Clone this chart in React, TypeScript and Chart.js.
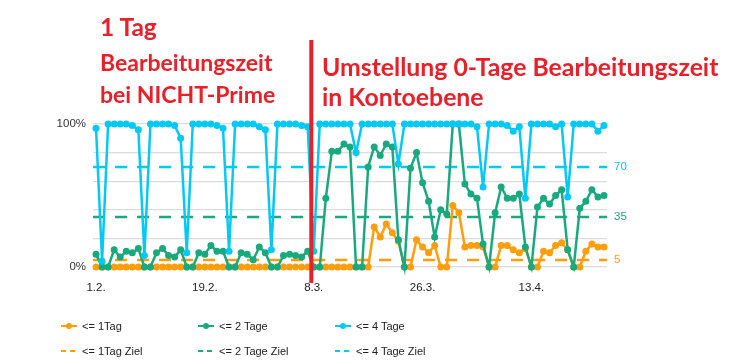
import React, { useEffect, useRef } from "react";
import { Chart, registerables } from "chart.js";

Chart.register(...registerables);

// ---------- data ----------
const dates = [
  "1.2.", "2.2.", "3.2.", "4.2.", "5.2.", "6.2.", "7.2.", "8.2.", "9.2.", "10.2.",
  "11.2.", "12.2.", "13.2.", "14.2.", "15.2.", "16.2.", "17.2.", "18.2.", "19.2.", "20.2.",
  "21.2.", "22.2.", "23.2.", "24.2.", "25.2.", "26.2.", "27.2.", "28.2.", "29.2.",
  "1.3.", "2.3.", "3.3.", "4.3.", "5.3.", "6.3.", "7.3.", "8.3.", "9.3.", "10.3.",
  "11.3.", "12.3.", "13.3.", "14.3.", "15.3.", "16.3.", "17.3.", "18.3.", "19.3.", "20.3.",
  "21.3.", "22.3.", "23.3.", "24.3.", "25.3.", "26.3.", "27.3.", "28.3.", "29.3.", "30.3.", "31.3.",
  "1.4.", "2.4.", "3.4.", "4.4.", "5.4.", "6.4.", "7.4.", "8.4.", "9.4.", "10.4.",
  "11.4.", "12.4.", "13.4.", "14.4.", "15.4.", "16.4.", "17.4.", "18.4.", "19.4.", "20.4.",
  "21.4.", "22.4.", "23.4.", "24.4.", "25.4.",
];

const tag1 = [
  0, 0, 0, 0, 0, 0, 0, 0, 0, 0,
  0, 0, 0, 0, 0, 0, 0, 0, 0, 0,
  0, 0, 0, 0, 0, 0, 0, 0, 0, 0,
  0, 0, 0, 0, 0, 0, 0, 0, 0, 0,
  0, 0, 0, 0, 0, 0, 28, 21, 30, 24,
  18, 0, 0, 19, 14, 10, 15, 0, 0, 43,
  38, 14, 15, 15, 14, 0, 0, 15, 15, 12,
  10, 13, 0, 0, 11, 10, 15, 17, 12, 0,
  0, 11, 16, 14, 14,
];

const tage2 = [
  9, 0, 0, 12, 7, 11, 10, 13, 0, 0,
  10, 13, 8, 7, 12, 0, 0, 10, 9, 15,
  11, 11, 0, 0, 10, 9, 5, 14, 10, 0,
  0, 8, 9, 8, 7, 11, 0, 0, 48, 81,
  81, 86, 84, 0, 0, 70, 84, 78, 86, 84,
  19, 0, 69, 80, 59, 46, 21, 40, 37, 100,
  100, 58, 51, 48, 16, 0, 38, 56, 48, 48,
  51, 14, 0, 42, 48, 44, 50, 54, 12, 0,
  41, 46, 54, 49, 50,
];

const tage4 = [
  97, 4, 100, 100, 100, 100, 99, 96, 8, 100,
  100, 100, 100, 99, 90, 10, 100, 100, 100, 100,
  99, 97, 11, 100, 100, 100, 100, 98, 96, 12,
  100, 100, 100, 100, 99, 98, 11, 100, 100, 100,
  100, 100, 100, 80, 100, 100, 100, 100, 100, 100,
  72, 100, 100, 100, 100, 100, 100, 100, 100, 100,
  100, 100, 100, 98, 56, 100, 100, 100, 99, 95,
  98, 48, 100, 100, 100, 100, 98, 100, 49, 100,
  100, 100, 100, 95, 99,
];

const seriesNames = ["<= 1Tag", "<= 2 Tage", "<= 4 Tage"];
const targetNames = ["<= 1Tag Ziel", "<= 2 Tage Ziel", "<= 4 Tage Ziel"];
const targets = [5, 35, 70];
const labelledPercent = [0, 100];
const xLabelEvery = 18;
const switchDate = "8.3.";

// ---------- styles ----------
const colors = ["#ff9d0c", "#19a97e", "#05c9f5"];
const red = "#e8202a";
const textFont = "'Liberation Sans', Arial, sans-serif";

const overlayPlugin = {
  id: "overlay",
  beforeDatasetsDraw(chart: any) {
    const { ctx, chartArea, scales } = chart;
    ctx.save();
    ctx.lineWidth = 2.5;
    ctx.setLineDash([12, 10]);
    targets.forEach((t, k) => {
      const y = Math.round(scales.y.getPixelForValue(t));
      ctx.strokeStyle = colors[k];
      ctx.beginPath();
      ctx.moveTo(chartArea.left, y);
      ctx.lineTo(chartArea.right, y);
      ctx.stroke();
    });
    ctx.restore();
  },
  afterDraw(chart: any) {
    const { ctx, chartArea, scales } = chart;
    const idx = dates.indexOf(switchDate) - 0.4;
    const x = scales.x.getPixelForValue(idx);
    ctx.save();
    ctx.strokeStyle = red;
    ctx.lineWidth = 4;
    ctx.beginPath();
    ctx.moveTo(x, chartArea.top - 84);
    ctx.lineTo(x, chartArea.bottom + 16);
    ctx.stroke();
    ctx.restore();
  },
};

function makeDataset(label: string, data: number[], color: string, order: number) {
  return {
    label,
    data,
    borderColor: color,
    backgroundColor: color,
    pointBackgroundColor: color,
    pointBorderColor: color,
    borderWidth: 2.5,
    pointRadius: 3.5,
    pointBorderWidth: 0,
    tension: 0,
    clip: false,
    order,
  };
}

function LegendItem({ x, y, color, label, dashed }: any) {
  return (
    <div style={{ position: "absolute", left: x, top: y - 8, height: 16, display: "flex", alignItems: "center" }}>
      <div style={{ position: "relative", width: 16, height: 16, marginRight: 5 }}>
        {dashed ? (
          <>
            <div style={{ position: "absolute", left: 0, top: 7, width: 5, height: 2, background: color }} />
            <div style={{ position: "absolute", left: 9, top: 7, width: 5, height: 2, background: color }} />
          </>
        ) : (
          <>
            <div style={{ position: "absolute", left: 0, top: 7, width: 16, height: 2, background: color }} />
            <div style={{ position: "absolute", left: 5, top: 5, width: 6, height: 6, borderRadius: 3, background: color }} />
          </>
        )}
      </div>
      <span style={{ fontFamily: textFont, fontSize: 11, color: "#222", whiteSpace: "nowrap" }}>{label}</span>
    </div>
  );
}

export default function App() {
  const canvasRef = useRef<HTMLCanvasElement | null>(null);

  useEffect(() => {
    if (!canvasRef.current) return;
    const chart = new Chart(canvasRef.current, {
      type: "line",
      data: {
        labels: dates,
        datasets: [
          makeDataset(seriesNames[0], tag1, colors[0], 3),
          makeDataset(seriesNames[1], tage2, colors[1], 2),
          makeDataset(seriesNames[2], tage4, colors[2], 1),
        ],
      },
      options: {
        animation: false,
        responsive: false,
        layout: { padding: { top: 124, bottom: 64, left: 0, right: 0 } },
        plugins: { legend: { display: false }, tooltip: { enabled: false } },
        scales: {
          x: {
            offset: true,
            grid: { display: false, drawTicks: false },
            border: { display: false },
            ticks: {
              autoSkip: false,
              maxRotation: 0,
              minRotation: 0,
              padding: 14,
              color: "#222",
              font: { family: textFont, size: 11.5 },
              callback: (_v: any, i: number) => (i % xLabelEvery === 0 ? dates[i] : ""),
            },
            afterFit: (s: any) => { s.height = 30; },
          },
          y: {
            position: "left",
            min: 0,
            max: 100,
            grid: { color: "#dcdcdc", lineWidth: 1.2, drawTicks: false },
            border: { display: false },
            ticks: {
              stepSize: 20,
              padding: 7,
              color: "#333",
              font: { family: textFont, size: 11.5 },
              callback: (v: any) => (labelledPercent.includes(v) ? v + "%" : ""),
            },
            afterFit: (s: any) => { s.width = 93; },
          },
          y2: {
            position: "right",
            min: 0,
            max: 100,
            grid: { display: false, drawTicks: false },
            border: { display: false },
            afterBuildTicks: (s: any) => { s.ticks = targets.map((v) => ({ value: v })); },
            ticks: {
              padding: 7,
              font: { family: textFont, size: 11.5 },
              color: (c: any) => colors[targets.indexOf(c.tick.value)] || "#333",
              callback: (v: any) => String(v),
            },
            afterFit: (s: any) => { s.width = 126; },
          },
        },
      },
      plugins: [overlayPlugin],
    } as any);
    return () => chart.destroy();
  }, []);

  const annot: React.CSSProperties = {
    position: "absolute",
    fontFamily: "Lato, 'Open Sans', sans-serif",
    fontWeight: 700,
    fontSize: 23,
    lineHeight: "24px",
    color: red,
    whiteSpace: "nowrap",
  };
  const annotBig: React.CSSProperties = { ...annot, fontSize: 24.8, lineHeight: "25px" };

  const colX = [61, 198, 335];
  return (
    <div style={{ position: "absolute", left: 0, top: 0, width: 733, height: 361, background: "#fff", overflow: "hidden" }}>
      <canvas ref={canvasRef} width={733} height={361} style={{ position: "absolute", left: 0, top: 0, width: 733, height: 361 }} />
      <div style={{ ...annot, fontSize: 24.5, left: 100, top: 15 }}>1 Tag</div>
      <div style={{ ...annot, left: 100, top: 50 }}>Bearbeitungszeit</div>
      <div style={{ ...annot, left: 100, top: 82 }}>bei NICHT-Prime</div>
      <div style={{ ...annotBig, left: 322, top: 54 }}>Umstellung 0-Tage Bearbeitungszeit</div>
      <div style={{ ...annotBig, left: 322, top: 84 }}>in Kontoebene</div>
      {seriesNames.map((n, k) => (
        <LegendItem key={n} x={colX[k]} y={326} color={colors[k]} label={n} />
      ))}
      {targetNames.map((n, k) => (
        <LegendItem key={n} x={colX[k]} y={351} color={colors[k]} label={n} dashed />
      ))}
    </div>
  );
}
